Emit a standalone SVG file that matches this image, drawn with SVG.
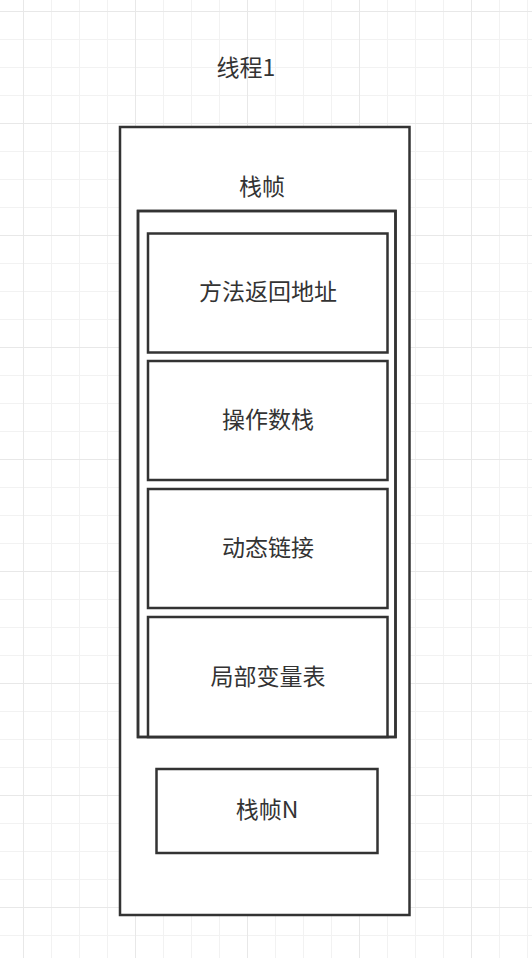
<svg xmlns="http://www.w3.org/2000/svg" width="532" height="958" viewBox="0 0 532 958">
<defs>
<pattern id="minor" x="23" y="11" width="28" height="28" patternUnits="userSpaceOnUse">
<path d="M0.5 0 V28 M0 0.5 H28" fill="none" stroke="#f2f2f2" stroke-width="1"/>
</pattern>
<pattern id="major" x="23" y="11" width="112" height="112" patternUnits="userSpaceOnUse">
<path d="M0.5 0 V112 M0 0.5 H112" fill="none" stroke="#e8e8e8" stroke-width="1"/>
</pattern>
</defs>
<style>
.box{fill:#ffffff;stroke:#333333;stroke-width:2.5}
.frame{fill:none;stroke:#333333;stroke-width:2.5}
.t{font-family:"Noto Sans CJK SC","Noto Sans",sans-serif;font-size:23px;fill:#333333;text-anchor:middle;dominant-baseline:central}
</style>
<rect width="532" height="958" fill="#ffffff"/>
<rect width="532" height="958" fill="url(#minor)"/>
<rect width="532" height="958" fill="url(#major)"/>
<g id="thread-label"><text class="t" x="246" y="66">线程1</text></g>
<g id="thread1">
<rect class="box" x="120" y="127" width="289.5" height="788"/>
</g>
<g id="frame-label"><text class="t" x="262" y="185">栈帧</text></g>
<g id="stack-frame">
<rect class="box" x="138" y="211" width="257.5" height="526"/>
</g>
<g id="return-address">
<rect class="box" x="148" y="233.5" width="239.5" height="119"/>
<text class="t" x="268" y="290">方法返回地址</text>
</g>
<g id="operand-stack">
<rect class="box" x="148" y="361" width="239.5" height="119"/>
<text class="t" x="268" y="417.5">操作数栈</text>
</g>
<g id="dynamic-linking">
<rect class="box" x="148" y="489" width="239.5" height="119"/>
<text class="t" x="268" y="545.5">动态链接</text>
</g>
<g id="local-variables">
<rect class="box" x="148" y="617" width="239.5" height="120"/>
<text class="t" x="268" y="674.5">局部变量表</text>
</g>
<rect class="frame" x="138" y="211" width="257.5" height="526"/>
<g id="stack-frame-n">
<rect class="box" x="156.5" y="769" width="221" height="84"/>
<text class="t" x="267" y="807.5">栈帧N</text>
</g>
<g id="connectors"/>
</svg>
